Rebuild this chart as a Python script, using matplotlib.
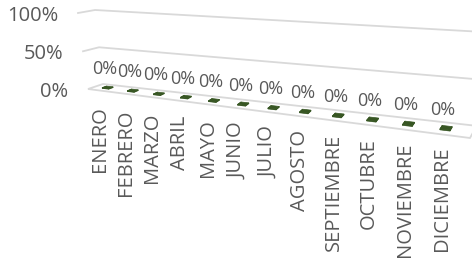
import numpy as np
import matplotlib
matplotlib.use('Agg')
import matplotlib.pyplot as plt

plt.rcParams['font.family'] = ['Open Sans', 'DejaVu Sans']

meses = ['ENERO', 'FEBRERO', 'MARZO', 'ABRIL', 'MAYO', 'JUNIO', 'JULIO',
         'AGOSTO', 'SEPTIEMBRE', 'OCTUBRE', 'NOVIEMBRE', 'DICIEMBRE']
valores = [0.0, 0.0, 0.0, 0.0, 0.0, 0.0, 0.0, 0.0, 0.0, 0.0, 0.0, 0.0]
ejes_val = [0.0, 0.5, 1.0]
ejes_txt = ['0%', '50%', '100%']

GRIS = '#595959'
LINEA = '#d9d9d9'
BARRA = '#375623'


def homography(src, dst):
    A = []
    b = []
    for (u, v), (x, y) in zip(src, dst):
        A.append([u, v, 1, 0, 0, 0, -x * u, -x * v])
        A.append([0, 0, 0, u, v, 1, -y * u, -y * v])
        b += [x, y]
    h = np.linalg.solve(np.array(A, float), np.array(b, float))
    return np.append(h, 1).reshape(3, 3)


n = len(meses)
# back wall of the 3d plot, (category position, value) -> pixel
H = homography([(0, 0), (0, 1), (n, 0), (n, 1)],
               [(103, 84), (95, 10), (469, 125), (466, 31)])
t_fin = n + 0.2   # walls run a little past the last category (clipped at edge)


def proj(t, v, d=0.0):
    p = H @ np.array([t, v, 1.0])
    x, y = p[0] / p[2], p[1] / p[2]
    f = t / n
    ox = -15 + 8 * f - 2 * v
    oy = 5 + 7 * f - 2 * v
    return x + d * ox, y + d * oy


fig = plt.figure(figsize=(4.72, 2.63), dpi=100)
ax = fig.add_axes([0, 0, 1, 1])
ax.set_xlim(0, 472)
ax.set_ylim(263, 0)
ax.axis('off')

# floor
piso = [proj(0, 0, 0), proj(t_fin, 0, 0), proj(t_fin, 0, 1), proj(0, 0, 1)]
ax.add_patch(plt.Polygon(piso, closed=True, facecolor='white',
                         edgecolor=LINEA, lw=1.3, zorder=1))

# gridlines on side and back wall
for v in ejes_val[1:]:
    pts = np.array([proj(0, v, 1), proj(0, v, 0), proj(t_fin, v, 0)])
    ax.plot(pts[:, 0], pts[:, 1], color=LINEA, lw=1.3, zorder=1)

for v, lab in zip(ejes_val, ejes_txt):
    x, y = proj(0, v, 1)
    ax.text(x - 20, y + 3, lab, ha='right', va='center', fontsize=14.5, color=GRIS)

# bars
w = 0.13
d0, d1 = 0.35, 0.65
for i, val in enumerate(valores):
    c = i + 0.5
    top = val + 0.01
    caras = [
        [(c - w, top, d0), (c + w, top, d0), (c + w, top, d1), (c - w, top, d1)],
        [(c - w, 0, d1), (c + w, 0, d1), (c + w, top, d1), (c - w, top, d1)],
        [(c + w, 0, d0), (c + w, 0, d1), (c + w, top, d1), (c + w, top, d0)],
        [(c - w, 0, d0), (c - w, 0, d1), (c - w, top, d1), (c - w, top, d0)],
    ]
    for cara in caras:
        ax.add_patch(plt.Polygon([proj(t, v, d) for t, v, d in cara], closed=True,
                                 facecolor=BARRA, edgecolor=BARRA, lw=0.5, zorder=3))
    x, y = proj(c, top, 0.5)
    ax.text(x - 3, y - 18, '{:.0%}'.format(val), ha='center', va='center',
            fontsize=13, color=GRIS, zorder=4)
    x, y = proj(c, 0, 1)
    ax.text(x, y + 16 - 4 * c / n, meses[i], rotation=90, ha='center', va='top',
            fontsize=14.5, color=GRIS)

fig.savefig('out.png', dpi=100)
